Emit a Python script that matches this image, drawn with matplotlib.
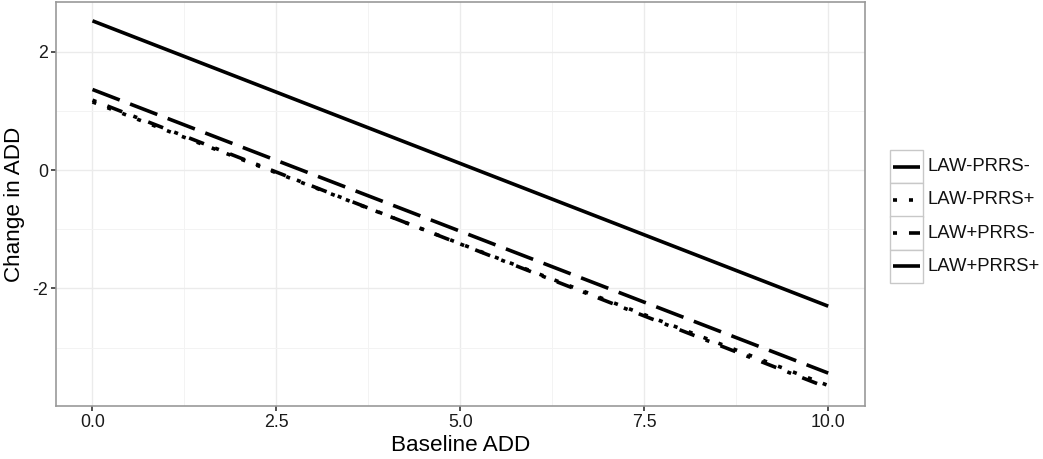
import numpy as np
import matplotlib
matplotlib.use('agg')
import matplotlib.pyplot as plt
from matplotlib.patches import Rectangle
from matplotlib.lines import Line2D

plt.rcParams['font.family'] = ['Liberation Sans', 'DejaVu Sans']
plt.rcParams['lines.scale_dashes'] = False

# data: fitted change in ADD at baseline ADD 0 and 10
baseline = [0.0, 10.0]
groups = ['LAW-PRRS-', 'LAW-PRRS+', 'LAW+PRRS-', 'LAW+PRRS+']
law_m_prrs_m = [2.52, -2.30]
law_m_prrs_p = [1.15, -3.64]
law_p_prrs_m = [1.18, -3.68]
law_p_prrs_p = [1.36, -3.43]
x_ticks = [0.0, 2.5, 5.0, 7.5, 10.0]
x_ticklabels = ['0.0', '2.5', '5.0', '7.5', '10.0']
y_ticks = [-2, 0, 2]
y_ticklabels = ['-2', '0', '2']

series = [law_m_prrs_m, law_m_prrs_p, law_p_prrs_m, law_p_prrs_p]
styles = [
    (0, ()),                      # solid
    (0, (2.9, 8.6)),              # dotted
    (0, (2.9, 8.6, 11.5, 8.6)),   # dotdash
    (0, (21, 8)),                 # longdash
]
lw = 2.6

W, H = 1043, 459
fig = plt.figure(figsize=(W / 100, H / 100), dpi=100)
ax = fig.add_axes([55.7 / W, 1 - 406 / H, (865 - 55.7) / W, (406 - 2) / H])

for vals, ls in zip(series, styles):
    ax.plot(baseline, vals, color='black', lw=lw, linestyle=ls,
            solid_capstyle='butt', dash_capstyle='butt')

ax.set_xlim(-0.5, 10.5)
ax.set_ylim(-3.986, 2.838)
ax.set_xticks(x_ticks)
ax.set_xticklabels(x_ticklabels)
ax.set_yticks(y_ticks)
ax.set_yticklabels(y_ticklabels)
ax.set_xticks([1.25, 3.75, 6.25, 8.75], minor=True)
ax.set_yticks([-3, -1, 1], minor=True)
ax.grid(which='major', color='#EBEBEB', lw=1.0)
ax.grid(which='minor', color='#F3F3F3', lw=0.7)
ax.set_axisbelow(True)
ax.tick_params(which='major', length=3.5, width=1.2, color='#333333',
               labelsize=12.8, labelcolor='#1A1A1A', pad=2)
ax.tick_params(which='minor', length=0)
for s in ax.spines.values():
    s.set_color('#999999')
    s.set_linewidth(1.2)

ax.set_xlabel('Baseline ADD', fontsize=16.2, labelpad=3)
ax.set_ylabel('Change in ADD', fontsize=16.2, labelpad=5)

# legend with boxed keys, ggplot style
leg = fig.add_axes([890 / W, 1 - 283 / H, 33 / W, 133 / H])
leg.set_xlim(0, 1)
leg.set_ylim(0, 4)
leg.axis('off')
for i, (name, ls) in enumerate(zip(groups, styles)):
    y0 = 3 - i
    leg.add_patch(Rectangle((0, y0), 1, 1, facecolor='white',
                            edgecolor='#C8C8C8', lw=1.0, clip_on=False))
    leg.add_line(Line2D([0.1, 0.9], [y0 + 0.5, y0 + 0.5], color='black',
                        lw=lw, linestyle=ls, solid_capstyle='butt',
                        dash_capstyle='butt'))
    leg.text(1.15, y0 + 0.5, name, fontsize=13.3, va='center', ha='left',
             color='#111111', clip_on=False)

fig.savefig('out.png', dpi=100)
